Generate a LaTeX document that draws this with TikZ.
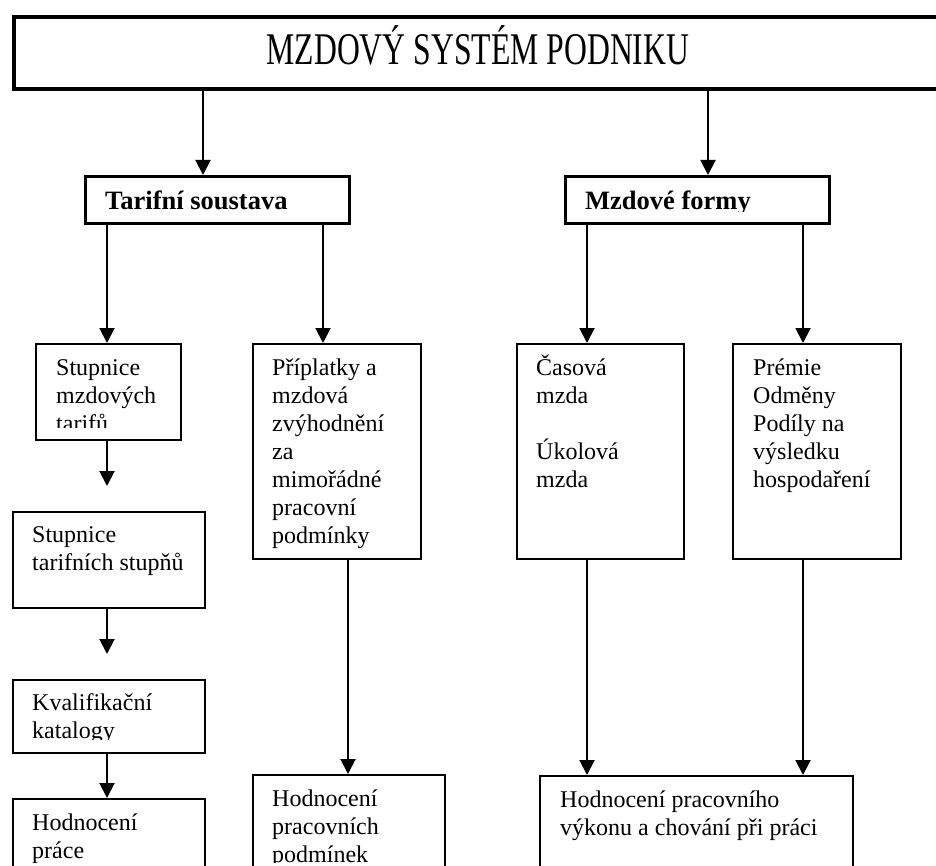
\documentclass[tikz,border=0pt]{standalone}
\usepackage{fontspec}
\usepackage{graphicx}
\setmainfont{Liberation Serif}
\usetikzlibrary{arrows.meta}
\newcommand{\mlines}[1]{\parbox[t]{400pt}{\raggedright #1}}
\begin{document}
\begin{tikzpicture}[x=1pt,y=-1pt,
  box/.style={draw, line width=2pt, rectangle, inner sep=0pt, anchor=north west},
  hbox/.style={box, line width=3pt},
  tbox/.style={box, line width=4pt},
  txt/.style={anchor=base west, inner sep=0pt, font=\fontsize{24}{28}\selectfont},
  btxt/.style={anchor=base west, inner sep=0pt, font=\fontsize{26.5}{30}\selectfont\bfseries},
  ttxt/.style={anchor=base, inner sep=0pt, font=\fontsize{31.7}{36}\selectfont},
  arr/.style={line width=2pt, -{Triangle[width=15pt,length=15pt]}}]
\useasboundingbox (0,0) rectangle (936,866);

% boxes
\node[tbox, minimum width=948pt, minimum height=72pt] (top) at (12,15) {};
\node[hbox, minimum width=264pt, minimum height=47pt] (tar) at (84,175) {};
\node[hbox, minimum width=264pt, minimum height=47pt] (mzf) at (564,175) {};
\node[box, minimum width=145pt, minimum height=96pt] (smt) at (35,343) {};
\node[box, minimum width=168pt, minimum height=215pt] (pri) at (252,343) {};
\node[box, minimum width=167pt, minimum height=215pt] (cas) at (516,343) {};
\node[box, minimum width=168pt, minimum height=215pt] (prm) at (732,343) {};
\node[box, minimum width=192pt, minimum height=96pt] (stt) at (12,511) {};
\node[box, minimum width=192pt, minimum height=73pt] (kva) at (12,679) {};
\node[box, minimum width=192pt, minimum height=90pt] (hpr) at (12,798) {};
\node[box, minimum width=192pt, minimum height=110pt] (hpp) at (252,774) {};
\node[box, minimum width=313pt, minimum height=110pt] (hpv) at (539,775) {};

% texts
\node[ttxt] (t_top) at (478,65) {\scalebox{1}[1.43]{MZDOVÝ SYSTÉM PODNIKU}};
\begin{scope}
  \clip (0,0) rectangle (936,212);
  \node[btxt] (t_tar) at (105,210) {Tarifní soustava};
  \node[btxt] (t_mzf) at (585,210) {Mzdové formy};
\end{scope}
\begin{scope}
  \clip (0,0) rectangle (936,427);
  \node[txt] (t_smt) at (56,375) {\mlines{Stupnice\\mzdových\\tarifů}};
\end{scope}
\node[txt] (t_pri) at (272,375) {\mlines{Příplatky a\\mzdová\\zvýhodnění\\za\\mimořádné\\pracovní\\podmínky}};
\node[txt] (t_cas) at (536,375) {\mlines{Časová\\mzda\\[28pt]Úkolová\\mzda}};
\node[txt] (t_prm) at (753,375) {\mlines{Prémie\\Odměny\\Podíly na\\výsledku\\hospodaření}};
\node[txt] (t_stt) at (32,542) {\mlines{Stupnice\\tarifních stupňů}};
\begin{scope}
  \clip (0,0) rectangle (936,739);
  \node[txt] (t_kva) at (32,710) {\mlines{Kvalifikační\\katalogy}};
\end{scope}
\begin{scope}
  \clip (0,0) rectangle (936,862);
  \node[txt] (t_hpr) at (32,830) {\mlines{Hodnocení\\práce}};
  \node[txt] (t_hpp) at (272,806) {\mlines{Hodnocení\\pracovních\\podmínek}};
  \node[txt] (t_hpv) at (560,807) {\mlines{Hodnocení pracovního\\výkonu a chování při práci}};
\end{scope}

% x positions of connectors
\coordinate (xa) at (203,0);
\coordinate (xb) at (708,0);
\coordinate (xc) at (107,0);
\coordinate (xd) at (323,0);
\coordinate (xe) at (587,0);
\coordinate (xf) at (803,0);
\coordinate (xg) at (348,0);

% connectors
\draw[arr] (top.south -| xa) -- (tar.north -| xa);
\draw[arr] (top.south -| xb) -- (mzf.north -| xb);
\draw[arr] (tar.south -| xc) -- (smt.north -| xc);
\draw[arr] (tar.south -| xd) -- (pri.north -| xd);
\draw[arr] (mzf.south -| xe) -- (cas.north -| xe);
\draw[arr] (mzf.south -| xf) -- (prm.north -| xf);
\draw[arr, shorten >=25pt] (smt.south -| xc) -- (stt.north -| xc);
\draw[arr, shorten >=25pt] (stt.south -| xc) -- (kva.north -| xc);
\draw[arr] (kva.south -| xc) -- (hpr.north -| xc);
\draw[arr] (pri.south -| xg) -- (hpp.north -| xg);
\draw[arr] (cas.south -| xe) -- (hpv.north -| xe);
\draw[arr] (prm.south -| xf) -- (hpv.north -| xf);
\end{tikzpicture}
\end{document}
